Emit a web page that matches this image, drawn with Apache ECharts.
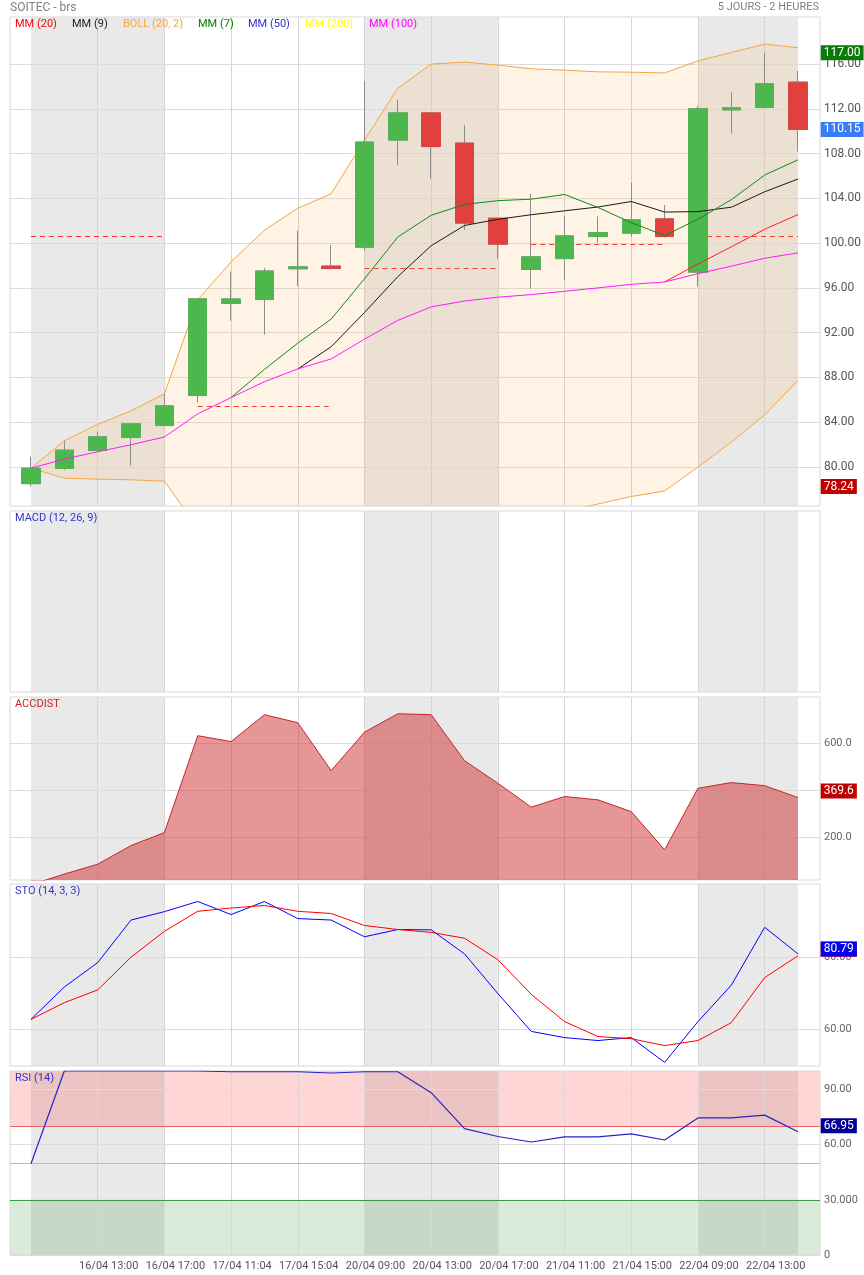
<!DOCTYPE html>
<html><head><meta charset="utf-8">
<script src="https://cdn.jsdelivr.net/npm/echarts@6/dist/echarts.min.js"></script>
<style>html,body{margin:0;padding:0;background:#fff}#c{width:864px;height:1275px}</style>
</head><body><div id="c"></div>
<script>
// ---------- DATA ----------
const categories = ['16/04 09:00','16/04 11:00','16/04 13:00','16/04 15:00','16/04 17:00',
  '17/04 09:04','17/04 11:04','17/04 13:04','17/04 15:04','17/04 17:04',
  '20/04 09:00','20/04 11:00','20/04 13:00','20/04 15:00','20/04 17:00',
  '21/04 09:00','21/04 11:00','21/04 13:00','21/04 15:00','21/04 17:00',
  '22/04 09:00','22/04 11:00','22/04 13:00','22/04 15:00'];
const openP  = [78.5, 79.85, 81.46, 82.62, 83.69, 86.37, 94.6, 94.95, 97.7, 97.94, 99.63, 109.2, 111.63, 108.93, 102.22, 97.64, 98.61, 100.58, 100.88, 102.16, 97.4, 111.9, 112.11, 114.38];
const closeP = [79.88, 81.49, 82.68, 83.84, 85.45, 95.01, 95.0, 97.5, 97.87, 97.72, 109.02, 111.63, 108.62, 101.78, 99.9, 98.77, 100.64, 100.94, 102.07, 100.58, 112.0, 112.08, 114.23, 110.15];
const lowP   = [78.24, 79.73, 81.4, 80.12, 83.6, 85.75, 93.07, 91.82, 96.17, 97.7, 99.33, 106.99, 105.74, 101.18, 98.59, 95.9, 96.65, 100.04, 100.58, 100.5, 96.1, 109.76, 112.05, 108.18];
const highP  = [80.9, 82.32, 83.13, 83.96, 86.52, 95.1, 97.45, 97.75, 101.1, 99.84, 114.47, 112.8, 111.65, 110.56, 102.22, 104.4, 102.43, 102.37, 105.4, 103.41, 112.26, 113.45, 117.0, 115.39];
const mm7   = ['-','-','-','-','-','-',86.19,88.71,91.05,93.20,96.80,100.54,102.48,103.45,103.79,103.92,104.34,103.18,101.82,100.67,102.13,103.87,106.08,107.44];
const mm9   = ['-','-','-','-','-','-','-','-',88.75,90.73,93.79,97.00,99.76,101.57,102.12,102.53,102.88,103.22,103.71,102.77,102.81,103.20,104.58,105.72];
const mm20  = ['-','-','-','-','-','-','-','-','-','-','-','-','-','-','-','-','-','-','-',96.52,98.13,99.66,101.23,102.55];
const mm100 = [79.88,80.69,81.35,81.97,82.67,84.73,86.19,87.61,88.75,89.64,91.41,93.09,94.29,94.82,95.16,95.39,95.69,95.99,96.31,96.52,97.26,97.93,98.64,99.12];
const bollUpper = [79.88,82.32,83.8,85.0,86.52,94.92,98.32,101.15,103.11,104.4,109.2,113.84,115.99,116.17,115.9,115.57,115.45,115.3,115.27,115.2,116.28,117.03,117.78,117.45];
const bollLower = [79.88,78.99,78.9,78.84,78.72,74.54,74.06,74.07,74.39,74.88,73.62,72.34,72.59,73.47,74.42,75.21,75.93,76.68,77.35,77.84,79.98,82.2,84.65,87.71];
const refLevelValues = [100.6, 85.42, 97.76, 99.93, 100.6];
const refLevelRanges = [[0,4],[5,9],[10,14],[15,19],[20,23]];
const accdist = [0,45,87,166,221,632,607,721,687,484,647,725,721,526,430,329,374,360,310,148,409,433,420,369.6];
const stoK = [62.8,71.7,78.4,90.1,92.4,95.2,91.6,95.2,90.5,90.1,85.5,87.5,87.4,80.8,69.9,59.5,57.8,57.0,57.8,51.0,62.2,72.2,88.1,80.79];
const stoD = [62.8,67.4,70.9,79.9,87.0,92.5,93.4,94.1,92.5,91.9,88.6,87.5,86.7,85.1,79.2,69.7,62.2,58.1,57.5,55.6,57.0,61.9,74.3,80.3];
const rsi = [49.6,100,100,100,100,100,99.6,99.6,99.6,98.9,99.6,99.6,88.2,68.7,64.4,61.4,64.2,64.2,65.8,62.5,74.5,74.5,76.0,66.95];
const dayBands = [[0,4],[10,14],[20,23]];
const priceTicks = [80,84,88,92,96,100,104,108,112,116];
const accTicks = [200,400,600];
const accTickLabels = ['200.0','400.0','600.0'];
const stoTicks = [60,80];
const stoTickLabels = ['60.00','80.00'];
const rsiTicks = [0,30,60,90];
const rsiTickLabels = ['0','30.000','60.00','90.00'];
const lastHigh = 117.00, lastClose = 110.15, lastLow = 78.24;

// ---------- LAYOUT ----------
const FONT = 'Roboto, "Noto Sans", sans-serif';
const panels = [
  {top:17, height:489, min:76.5, max:120.2},
  {top:511, height:181, min:0, max:1},
  {top:697, height:183, min:20, max:796},
  {top:884, height:182, min:50, max:100},
  {top:1071, height:184, min:0, max:100}
];
const grid = [], xAxis = [], yAxis = [], series = [];
panels.forEach((p, i) => {
  grid.push({left:10, right:44, top:p.top, height:p.height, show:true, borderColor:'#d9d9d9', borderWidth:1, backgroundColor:'transparent'});
  grid.push({left:14.3, right:49.3, top:p.top, height:p.height, show:false});
  xAxis.push({type:'value', gridIndex:2*i, min:0, max:1, show:false});
  xAxis.push({type:'category', gridIndex:2*i+1, data:categories, boundaryGap:true,
    show: i === 4,
    axisLine:{show:false}, axisTick:{show:false}, splitLine:{show:false},
    axisLabel:{show: i === 4, interval:(idx)=> idx % 2 === 0 && idx > 0, fontSize:11, color:'#555', fontFamily:FONT, margin:6, padding:[0,0,0,22]}
  });
});
function bgY(i, ticks, fmt, fs, col) {
  return {type:'value', gridIndex:2*i, position:'right', min:panels[i].min, max:panels[i].max,
    axisLine:{show:false}, axisTick:{show:false, customValues:ticks},
    axisLabel:{show:true, customValues:ticks, formatter:fmt, fontSize:fs, color:col, fontFamily:FONT, margin:4},
    splitLine:{show:true, lineStyle:{color:'#dcdcdc', width:1}}};
}
yAxis.push(bgY(0, priceTicks, v => Number(v).toFixed(2), 12, '#555'));
yAxis.push({type:'value', gridIndex:1, min:panels[0].min, max:panels[0].max, show:false});
yAxis.push({type:'value', gridIndex:2, min:0, max:1, show:false, splitLine:{show:false}});
yAxis.push({type:'value', gridIndex:3, min:0, max:1, show:false});
yAxis.push(bgY(2, accTicks, v => accTickLabels[accTicks.indexOf(Number(v))], 11, '#666'));
yAxis.push({type:'value', gridIndex:5, min:panels[2].min, max:panels[2].max, show:false});
yAxis.push(bgY(3, stoTicks, v => stoTickLabels[stoTicks.indexOf(Number(v))], 11, '#666'));
yAxis.push({type:'value', gridIndex:7, min:panels[3].min, max:panels[3].max, show:false});
yAxis.push(bgY(4, rsiTicks, v => rsiTickLabels[rsiTicks.indexOf(Number(v))], 11, '#666'));
yAxis.push({type:'value', gridIndex:9, min:panels[4].min, max:panels[4].max, show:false});

// gray day bands and vertical grid lines in each panel
const vlineCats = categories.filter((c, idx) => idx % 2 === 0 && idx > 0);
panels.forEach((p, i) => {
  series.push({type:'line', xAxisIndex:2*i+1, yAxisIndex:2*i+1, data:[], z:-3, silent:true,
    markArea:{silent:true, z:-3, itemStyle:{color:'#e9e9e9'},
      data: dayBands.map(b => [{xAxis:categories[b[0]]}, {xAxis:categories[b[1]]}])}});
  series.push({type:'line', xAxisIndex:2*i+1, yAxisIndex:2*i+1, data:[], z:-1, silent:true,
    markLine:{silent:true, z:-1, symbol:['none','none'], label:{show:false},
      lineStyle:{color:'#d6d6d6', type:'solid', width:1},
      data: vlineCats.map(c => ({xAxis:c}))}});
});

function boxLine(value, text, bg, offY) {
  return {yAxis:value, label:{show:true, position:'end', distance:6, formatter:text,
    backgroundColor:bg, color:'#fff', fontSize:12, fontFamily:FONT, padding:[2,3,1,3], offset:[0, offY]},
    lineStyle:{color:'rgba(0,0,0,0)', width:0}};
}

// ---------- MAIN PANEL ----------
const orange = '#f5a742';
series.push({name:'BOLL low', type:'line', xAxisIndex:1, yAxisIndex:1, data:bollLower, stack:'boll',
  symbol:'none', lineStyle:{color:orange, width:1}, silent:true});
series.push({name:'BOLL up', type:'line', xAxisIndex:1, yAxisIndex:1, data:bollUpper.map((u, k) => +(u - bollLower[k]).toFixed(2)), stack:'boll',
  symbol:'none', lineStyle:{color:orange, width:1}, areaStyle:{color:'rgba(245,167,66,0.2)'}, silent:true});
series.push({type:'line', xAxisIndex:1, yAxisIndex:1, data:[], silent:true, z:3,
  markLine:{silent:true, z:3, symbol:['none','none'], label:{show:false},
    lineStyle:{color:'#ff2a2a', type:[5,4], width:1},
    data: refLevelValues.map((v, k) => [{coord:[categories[refLevelRanges[k][0]], v]}, {coord:[categories[refLevelRanges[k][1]], v]}])}});
series.push({name:'wicks', type:'candlestick', xAxisIndex:1, yAxisIndex:1, barWidth:19, silent:true, z:4,
  data: categories.map((c, k) => [openP[k], closeP[k], lowP[k], highP[k]]),
  itemStyle:{color:'rgba(0,0,0,0)', color0:'rgba(0,0,0,0)', borderColor:'#8c8c8c', borderColor0:'#8c8c8c', borderWidth:1}});
series.push({name:'bodies', type:'candlestick', xAxisIndex:1, yAxisIndex:1, barWidth:19, silent:true, z:4,
  data: categories.map((c, k) => [openP[k], closeP[k], Math.min(openP[k], closeP[k]), Math.max(openP[k], closeP[k])]),
  itemStyle:{color:'#4cb84c', color0:'#e23f3f', borderColor:'#58b058', borderColor0:'#d64646', borderWidth:1}});
[['MM (20)', mm20, '#ff2020'], ['MM (9)', mm9, '#1a1a1a'], ['MM (7)', mm7, '#128a12'], ['MM (100)', mm100, '#ff1aff']].forEach(s => {
  series.push({name:s[0], type:'line', xAxisIndex:1, yAxisIndex:1, data:s[1], symbol:'none', silent:true, z:5,
    lineStyle:{color:s[2], width:1}});
});
series.push({type:'line', xAxisIndex:1, yAxisIndex:1, data:[], silent:true, z:10,
  markLine:{silent:true, z:10, symbol:['none','none'],
    data:[boxLine(lastHigh, lastHigh.toFixed(2), '#0b7a0b', 0),
          boxLine(lastClose, lastClose.toFixed(2), '#3b7cf5', 0),
          boxLine(lastLow, lastLow.toFixed(2), '#bf0000', 0)]}});

// ---------- ACCDIST ----------
series.push({name:'ACCDIST', type:'line', xAxisIndex:5, yAxisIndex:5, data:accdist, symbol:'none', silent:true,
  lineStyle:{color:'#c4262b', width:1}, areaStyle:{color:'rgba(205,48,48,0.72)'}});
series.push({type:'line', xAxisIndex:5, yAxisIndex:5, data:[], silent:true, z:10,
  markLine:{silent:true, z:10, symbol:['none','none'],
    data:[boxLine(accdist[accdist.length-1], accdist[accdist.length-1].toFixed(1), '#c00000', -6.5)]}});

// ---------- STO ----------
series.push({name:'%K', type:'line', xAxisIndex:7, yAxisIndex:7, data:stoK, symbol:'none', silent:true, lineStyle:{color:'#0000ff', width:1}});
series.push({name:'%D', type:'line', xAxisIndex:7, yAxisIndex:7, data:stoD, symbol:'none', silent:true, lineStyle:{color:'#ff0000', width:1}});
series.push({type:'line', xAxisIndex:7, yAxisIndex:7, data:[], silent:true, z:10,
  markLine:{silent:true, z:10, symbol:['none','none'],
    data:[boxLine(stoD[stoD.length-1], stoD[stoD.length-1].toFixed(2), '#ff0000', -6.5),
          boxLine(stoK[stoK.length-1], stoK[stoK.length-1].toFixed(2), '#0000ee', -5)]}});

// ---------- RSI ----------
series.push({type:'line', xAxisIndex:8, yAxisIndex:8, data:[], silent:true, z:-2,
  markArea:{silent:true, z:-2, data:[
    [{yAxis:70, itemStyle:{color:'rgba(255,0,0,0.16)'}}, {yAxis:100}],
    [{yAxis:0, itemStyle:{color:'rgba(0,128,0,0.15)'}}, {yAxis:30}]]}});
series.push({type:'line', xAxisIndex:8, yAxisIndex:8, data:[], silent:true, z:1,
  markLine:{silent:true, z:1, symbol:['none','none'], label:{show:false}, data:[
    {yAxis:70, lineStyle:{color:'#f06262', type:'solid', width:1}},
    {yAxis:50, lineStyle:{color:'#8cc4ff', type:'solid', width:1}},
    {yAxis:30, lineStyle:{color:'#3f9a3f', type:'solid', width:1}}]}});
series.push({name:'RSI', type:'line', xAxisIndex:9, yAxisIndex:9, data:rsi, symbol:'none', silent:true, z:3, lineStyle:{color:'#2424c8', width:1.2}});
series.push({type:'line', xAxisIndex:9, yAxisIndex:9, data:[], silent:true, z:10,
  markLine:{silent:true, z:10, symbol:['none','none'],
    data:[boxLine(rsi[rsi.length-1], rsi[rsi.length-1].toFixed(2), '#000099', -6)]}});

// ---------- TEXTS ----------
const legendItems = [['MM (20)', '#ff0000', 15], ['MM (9)', '#222222', 72], ['BOLL (20, 2)', '#f5a742', 123],
  ['MM (7)', '#008000', 198], ['MM (50)', '#3333cc', 248], ['MM (200)', '#ffff00', 305], ['MM (100)', '#ff00ff', 369]];
const graphic = [
  {type:'text', z:100, left:10, top:2, style:{text:'SOITEC - brs', fill:'#808080', font:'12px ' + FONT}},
  {type:'text', z:100, right:45, top:2, style:{text:'5 JOURS - 2 HEURES', fill:'#808080', font:'11px ' + FONT}},
  {type:'text', z:100, left:15, top:513, style:{text:'MACD (12, 26, 9)', fill:'#3333cc', font:'11px ' + FONT}},
  {type:'text', z:100, left:15, top:699, style:{text:'ACCDIST', fill:'#cc2222', font:'11px ' + FONT}},
  {type:'text', z:100, left:15, top:886, style:{text:'STO (14, 3, 3)', fill:'#3333cc', font:'11px ' + FONT}},
  {type:'text', z:100, left:15, top:1073, style:{text:'RSI (14)', fill:'#3333cc', font:'11px ' + FONT}}
].concat(legendItems.map(it => ({type:'text', z:100, left:it[2], top:19, style:{text:it[0], fill:it[1], font:'11px ' + FONT}})));

const chart = echarts.init(document.getElementById('c'), null, {renderer:'canvas'});
chart.setOption({
  animation:false,
  backgroundColor:'#ffffff',
  textStyle:{fontFamily:FONT},
  grid, xAxis, yAxis, series, graphic
});
</script></body></html>
